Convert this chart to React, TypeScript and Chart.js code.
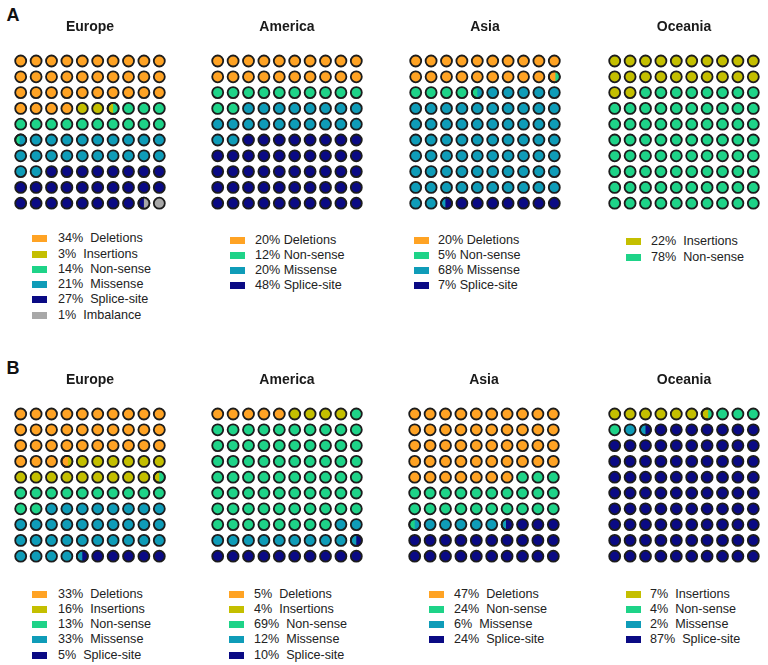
import React, { useEffect, useRef } from "react";
import { Chart, registerables } from "chart.js";

Chart.register(...registerables);

// ---------- DATA ----------
const REGIONS = ["Europe", "America", "Asia", "Oceania"];

const CATEGORY_COLORS: Record<string, string> = {
  Deletions: "#FFA324",
  Insertions: "#C4BF00",
  "Non-sense": "#1ED388",
  Missense: "#0F9CB8",
  "Splice-site": "#0A0A84",
  Imbalance: "#A8A8A8",
};

// Panel A
const A_EUROPE_CATEGORIES = ["Deletions", "Insertions", "Non-sense", "Missense", "Splice-site", "Imbalance"];
const A_EUROPE_VALUES = [34, 2.5, 13.9, 21.6, 26.5, 1.5];
const A_EUROPE_LABELS = ["34%", "3%", "14%", "21%", "27%", "1%"];

const A_AMERICA_CATEGORIES = ["Deletions", "Non-sense", "Missense", "Splice-site"];
const A_AMERICA_VALUES = [20, 12, 20, 48];
const A_AMERICA_LABELS = ["20%", "12%", "20%", "48%"];

const A_ASIA_CATEGORIES = ["Deletions", "Non-sense", "Missense", "Splice-site"];
const A_ASIA_VALUES = [19.6, 4.9, 67.9, 7.6];
const A_ASIA_LABELS = ["20%", "5%", "68%", "7%"];

const A_OCEANIA_CATEGORIES = ["Insertions", "Non-sense"];
const A_OCEANIA_VALUES = [22, 78];
const A_OCEANIA_LABELS = ["22%", "78%"];

// Panel B
const B_EUROPE_CATEGORIES = ["Deletions", "Insertions", "Non-sense", "Missense", "Splice-site"];
const B_EUROPE_VALUES = [33.6, 15.9, 12.5, 32.5, 5.5];
const B_EUROPE_LABELS = ["33%", "16%", "13%", "33%", "5%"];

const B_AMERICA_CATEGORIES = ["Deletions", "Insertions", "Non-sense", "Missense", "Splice-site"];
const B_AMERICA_VALUES = [5, 4, 69, 11.5, 10.5];
const B_AMERICA_LABELS = ["5%", "4%", "69%", "12%", "10%"];

const B_ASIA_CATEGORIES = ["Deletions", "Non-sense", "Missense", "Splice-site"];
const B_ASIA_VALUES = [47, 23.5, 5.9, 23.6];
const B_ASIA_LABELS = ["47%", "24%", "6%", "24%"];

const B_OCEANIA_CATEGORIES = ["Insertions", "Non-sense", "Missense", "Splice-site"];
const B_OCEANIA_VALUES = [6.6, 4.4, 1.5, 87.5];
const B_OCEANIA_LABELS = ["7%", "4%", "2%", "87%"];

// ---------- LAYOUT ----------
const FONT = "'Liberation Sans', Arial, Helvetica, sans-serif";
const PANEL_W = 196;
const PANEL_H = 212;
const ROW_OFFSET = 353;
const COLS = 10;
const ROWS = 10;

type PanelDef = {
  title: string;
  categories: string[];
  values: number[];
  labels: string[];
  gap: string;
  centerX: number;
  top: number;
  boxX: number;
  textX: number;
  legendY: number;
};

const PANELS: PanelDef[] = [
  { title: REGIONS[0], categories: A_EUROPE_CATEGORIES, values: A_EUROPE_VALUES, labels: A_EUROPE_LABELS, gap: "  ", centerX: 90, top: 0, boxX: 32, textX: 58, legendY: 238.7 },
  { title: REGIONS[1], categories: A_AMERICA_CATEGORIES, values: A_AMERICA_VALUES, labels: A_AMERICA_LABELS, gap: " ", centerX: 286.5, top: 0, boxX: 230, textX: 255, legendY: 240 },
  { title: REGIONS[2], categories: A_ASIA_CATEGORIES, values: A_ASIA_VALUES, labels: A_ASIA_LABELS, gap: " ", centerX: 484.5, top: 0, boxX: 414, textX: 438, legendY: 240 },
  { title: REGIONS[3], categories: A_OCEANIA_CATEGORIES, values: A_OCEANIA_VALUES, labels: A_OCEANIA_LABELS, gap: "  ", centerX: 683.5, top: 0, boxX: 626, textX: 651, legendY: 241.7 },
  { title: REGIONS[0], categories: B_EUROPE_CATEGORIES, values: B_EUROPE_VALUES, labels: B_EUROPE_LABELS, gap: "  ", centerX: 90, top: ROW_OFFSET, boxX: 32, textX: 58, legendY: 594 },
  { title: REGIONS[1], categories: B_AMERICA_CATEGORIES, values: B_AMERICA_VALUES, labels: B_AMERICA_LABELS, gap: "  ", centerX: 286.5, top: ROW_OFFSET, boxX: 229, textX: 254, legendY: 594 },
  { title: REGIONS[2], categories: B_ASIA_CATEGORIES, values: B_ASIA_VALUES, labels: B_ASIA_LABELS, gap: "  ", centerX: 483.5, top: ROW_OFFSET, boxX: 429, textX: 454, legendY: 594 },
  { title: REGIONS[3], categories: B_OCEANIA_CATEGORIES, values: B_OCEANIA_VALUES, labels: B_OCEANIA_LABELS, gap: "  ", centerX: 683.5, top: ROW_OFFSET, boxX: 626, textX: 650, legendY: 594 },
];

type Cell = { col: number; row: number; left: string; right: string | null; frac: number };

function buildCells(categories: string[], values: number[]): Cell[] {
  const bounds: number[] = [];
  let acc = 0;
  for (const v of values) {
    acc += v;
    bounds.push(acc);
  }
  const catAt = (pos: number) => {
    for (let i = 0; i < bounds.length; i++) if (pos < bounds[i]) return i;
    return bounds.length - 1;
  };
  const cells: Cell[] = [];
  for (let k = 0; k < COLS * ROWS; k++) {
    const li = catAt(k + 1e-6);
    const ri = catAt(k + 1 - 1e-6);
    cells.push({
      col: k % COLS,
      row: Math.floor(k / COLS),
      left: categories[li],
      right: ri !== li ? categories[ri] : null,
      frac: ri !== li ? bounds[li] - k : 1,
    });
  }
  return cells;
}

const POINT_R = 5.5;
const POINT_BW = 1.8;
const BORDER = "#1c1c1c";

const splitPlugin = {
  id: "splitCells",
  afterDatasetsDraw(chart: any) {
    const ctx = chart.ctx as CanvasRenderingContext2D;
    chart.data.datasets.forEach((ds: any, di: number) => {
      const meta = chart.getDatasetMeta(di);
      const cells: Cell[] = ds.cells;
      meta.data.forEach((el: any, i: number) => {
        const c = cells[i];
        if (!c || !c.right) return;
        const { x, y } = el;
        const r = POINT_R;
        ctx.save();
        ctx.beginPath();
        const cutX = x - r + c.frac * 2 * r;
        ctx.rect(cutX, y - r - 3, x + r + 3 - cutX, 2 * r + 6);
        ctx.clip();
        ctx.beginPath();
        ctx.arc(x, y, r, 0, Math.PI * 2);
        ctx.fillStyle = CATEGORY_COLORS[c.right];
        ctx.fill();
        ctx.restore();
        ctx.beginPath();
        ctx.arc(x, y, r, 0, Math.PI * 2);
        ctx.lineWidth = POINT_BW;
        ctx.strokeStyle = BORDER;
        ctx.stroke();
      });
    });
  },
};

function WafflePanel({ p }: { p: PanelDef }) {
  const ref = useRef<HTMLCanvasElement | null>(null);
  useEffect(() => {
    if (!ref.current) return;
    const cells = buildCells(p.categories, p.values);
    const chart = new Chart(ref.current, {
      type: "scatter",
      data: {
        datasets: [
          {
            data: cells.map((c) => ({ x: c.col, y: c.row })),
            cells,
            pointRadius: POINT_R,
            pointHoverRadius: POINT_R,
            pointBorderWidth: POINT_BW,
            pointBorderColor: BORDER,
            pointBackgroundColor: cells.map((c) => CATEGORY_COLORS[c.left]),
          } as any,
        ],
      },
      options: {
        animation: false,
        responsive: false,
        events: [],
        layout: { autoPadding: false, padding: { left: 21, right: 21, top: 0, bottom: 0.9 } },
        scales: {
          x: { type: "linear", min: -0.5, max: COLS - 0.5, display: false },
          y: { type: "linear", min: -0.5, max: ROWS - 0.5, reverse: true, display: false },
        },
        plugins: {
          legend: { display: false },
          tooltip: { enabled: false },
          title: {
            display: true,
            text: p.title,
            color: "#1a1a1a",
            font: { family: FONT, size: 14, weight: "bold" },
            padding: { top: 18.6, bottom: 17.7 },
          },
        },
      } as any,
      plugins: [splitPlugin],
    });
    return () => chart.destroy();
  }, [p]);

  const left = p.centerX - PANEL_W / 2;
  return (
    <>
      <canvas
        ref={ref}
        width={PANEL_W}
        height={PANEL_H}
        style={{ position: "absolute", left, top: p.top, width: PANEL_W, height: PANEL_H }}
      />
      {p.categories.map((cat, i) => {
        const cy = p.legendY + i * 15.3;
        return (
          <React.Fragment key={cat}>
            <div
              style={{
                position: "absolute",
                left: p.boxX,
                top: cy - 3.5,
                width: 15,
                height: 7,
                background: CATEGORY_COLORS[cat],
              }}
            />
            <div
              style={{
                position: "absolute",
                left: p.textX,
                top: cy - 7.5,
                height: 15,
                lineHeight: "15px",
                fontFamily: FONT,
                fontSize: 12.6,
                color: "#222",
                whiteSpace: "pre",
              }}
            >
              {`${p.labels[i]}${p.gap}${cat}`}
            </div>
          </React.Fragment>
        );
      })}
    </>
  );
}

export default function App() {
  return (
    <div
      style={{
        position: "absolute",
        left: 0,
        top: 0,
        width: 768,
        height: 665,
        background: "#ffffff",
        overflow: "hidden",
      }}
    >
      <div style={{ position: "absolute", left: 6.5, top: 6, fontFamily: FONT, fontWeight: "bold", fontSize: 18, lineHeight: 1, color: "#111" }}>A</div>
      <div style={{ position: "absolute", left: 6.5, top: 6 + ROW_OFFSET, fontFamily: FONT, fontWeight: "bold", fontSize: 18, lineHeight: 1, color: "#111" }}>B</div>
      {PANELS.map((p, i) => (
        <WafflePanel key={i} p={p} />
      ))}
    </div>
  );
}
